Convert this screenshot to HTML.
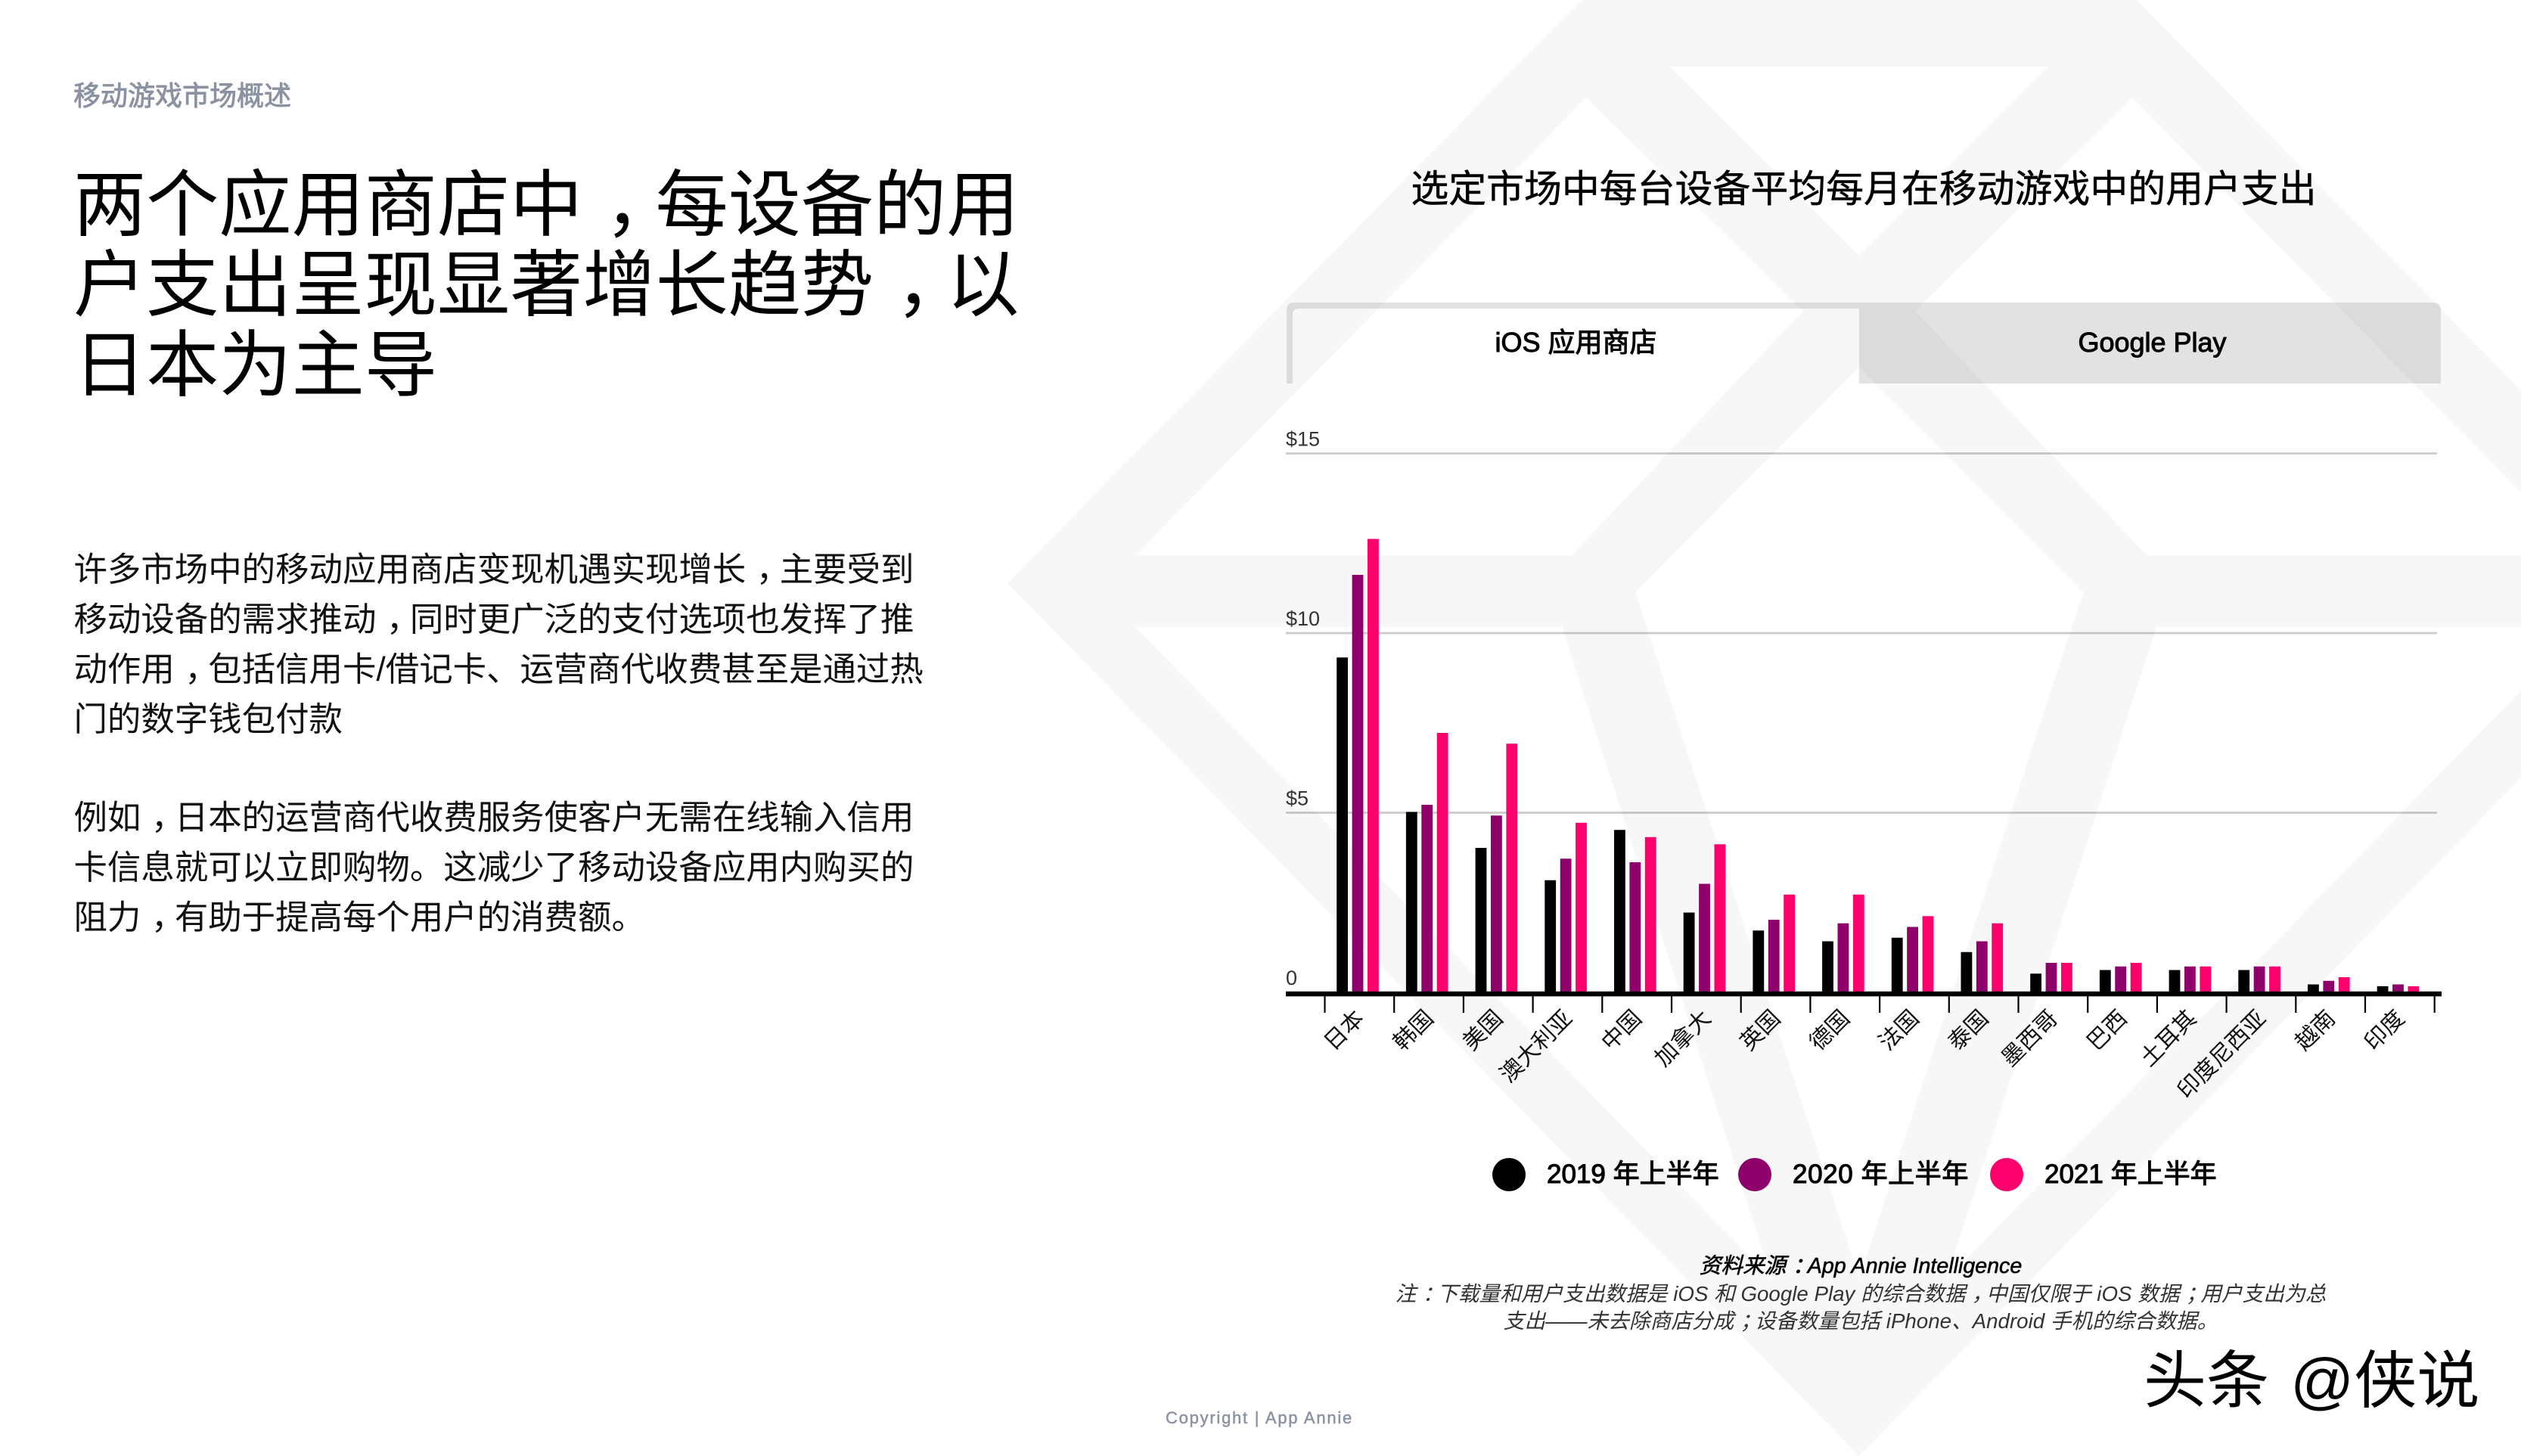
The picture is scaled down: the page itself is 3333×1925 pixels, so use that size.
<!DOCTYPE html>
<html lang="zh-Hans">
<head>
<meta charset="utf-8">
<title>移动游戏市场概述</title>
<style>
html,body{margin:0;padding:0;background:#fff;}
body{position:relative;width:3333px;height:1925px;overflow:hidden;font-family:"Liberation Sans","Noto Sans CJK SC",sans-serif;color:#000;}
svg{position:absolute;left:0;top:0;}
.t{position:absolute;white-space:nowrap;}
.c{position:relative;left:.3em;}
.h{left:97px;font-size:96.2px;line-height:106px;height:106px;}
.b{left:97.5px;font-size:44.45px;line-height:66px;height:66px;color:#111;}
.note{left:1660px;width:1600px;text-align:center;font-size:27.7px;line-height:36px;font-style:italic;color:#333;}
.leg{font-size:35px;line-height:50px;font-weight:400;-webkit-text-stroke:1.1px #000;top:1528px;}
.tab{font-size:36px;line-height:50px;top:428px;text-align:center;-webkit-text-stroke:1px #000;}
</style>
</head>
<body>

<svg width="3333" height="1925" viewBox="0 0 3333 1925">
  <path fill="#f7f7f8" fill-rule="evenodd" d="
    M1332,771 L2091,0 L2825,0 L3584,771 L2458,1925 Z
    M2208,88 L2708,88 L2458,338 Z
    M1501,734 L2097,129 L2384,411 L2078,734 Z
    M3415,734 L2819,129 L2532,411 L2838,734 Z
    M2162,783 L2458,485 L2754,783 L2458,1690 Z
    M1501,829 L2065,829 L2343,1692 Z
    M3415,829 L2851,829 L2573,1692 Z"/>
</svg>

<div class="t" style="left:97px;top:102px;font-size:36px;line-height:50px;color:#8b93a3;-webkit-text-stroke:.9px #8b93a3;">移动游戏市场概述</div>

<div class="t h" style="top:219px;">两个应用商店中<span class="c">，</span>每设备的用</div>
<div class="t h" style="top:325px;">户支出呈现显著增长趋势<span class="c">，</span>以</div>
<div class="t h" style="top:431px;">日本为主导</div>

<div class="t b" style="top:721px;">许多市场中的移动应用商店变现机遇实现增长<span class="c">，</span>主要受到</div>
<div class="t b" style="top:787px;">移动设备的需求推动<span class="c">，</span>同时更广泛的支付选项也发挥了推</div>
<div class="t b" style="top:853px;">动作用<span class="c">，</span>包括信用卡/借记卡、运营商代收费甚至是通过热</div>
<div class="t b" style="top:919px;">门的数字钱包付款</div>
<div class="t b" style="top:1049px;">例如<span class="c">，</span>日本的运营商代收费服务使客户无需在线输入信用</div>
<div class="t b" style="top:1115px;">卡信息就可以立即购物。这减少了移动设备应用内购买的</div>
<div class="t b" style="top:1181px;">阻力<span class="c">，</span>有助于提高每个用户的消费额。</div>

<div class="t" style="left:1664px;width:1600px;text-align:center;top:215px;font-size:49.9px;line-height:70px;-webkit-text-stroke:.5px #000;">选定市场中每台设备平均每月在移动游戏中的用户支出</div>

<svg width="3333" height="1925" viewBox="0 0 3333 1925">
  <path fill="rgba(0,0,0,.115)" d="M1701,507 V410 Q1701,400 1711,400 H2458 V408 H1717 Q1709,408 1709,416 V507 Z"/>
  <path fill="rgba(0,0,0,.115)" d="M2458,400 H3217 Q3227,400 3227,410 V507 H2458 Z"/>
</svg>
<div class="t tab" style="left:1709px;width:749px;">iOS 应用商店</div>
<div class="t tab" style="left:2461px;width:769px;">Google Play</div>

<svg id="chart" width="3333" height="1925" viewBox="0 0 3333 1925"></svg>

<svg width="3333" height="1925" viewBox="0 0 3333 1925">
  <circle cx="1995" cy="1553" r="22" fill="#000"/>
  <circle cx="2320" cy="1553" r="22" fill="#8e006a"/>
  <circle cx="2653" cy="1553" r="22" fill="#fc006c"/>
</svg>
<div class="t leg" style="left:2045px;">2019 年上半年</div>
<div class="t leg" style="left:2370px;letter-spacing:.6px;">2020 年上半年</div>
<div class="t leg" style="left:2703px;">2021 年上半年</div>

<div class="t note" style="top:1656px;font-size:28.6px;font-weight:400;color:#000;-webkit-text-stroke:.6px #000;">资料来源<span class="c">：</span>App Annie Intelligence</div>
<div class="t note" style="top:1693px;">注<span class="c">：</span>下载量和用户支出数据是 iOS 和 Google Play 的综合数据<span class="c">，</span>中国仅限于 iOS 数据<span class="c">；</span>用户支出为总</div>
<div class="t note" style="top:1729px;">支出——未去除商店分成<span class="c">；</span>设备数量包括 iPhone、Android 手机的综合数据。</div>

<div class="t" style="left:1541px;top:1862px;font-size:22px;line-height:26px;letter-spacing:1.75px;color:#8b93a3;-webkit-text-stroke:.5px #8b93a3;">Copyright | App Annie</div>

<div class="t" style="left:2834px;top:1772px;font-size:83px;line-height:108px;word-spacing:5px;color:#000;">头条 @侠说</div>

<script>
var categories = ['日本','韩国','美国','澳大利亚','中国','加拿大','英国','德国','法国','泰国','墨西哥','巴西','土耳其','印度尼西亚','越南','印度'];
var seriesNames = ['2019 年上半年','2020 年上半年','2021 年上半年'];
var values2019 = [9.3,5.0,4.0,3.1,4.5,2.2,1.7,1.4,1.5,1.1,0.5,0.6,0.6,0.6,0.2,0.15];
var values2020 = [11.6,5.2,4.9,3.7,3.6,3.0,2.0,1.9,1.8,1.4,0.8,0.7,0.7,0.7,0.3,0.2];
var values2021 = [12.6,7.2,6.9,4.7,4.3,4.1,2.7,2.7,2.1,1.9,0.8,0.8,0.7,0.7,0.4,0.15];
var tickValues = [0,5,10,15];
var tickLabels = ['0','$5','$10','$15'];

var SVGNS = 'http://www.w3.org/2000/svg';
var chart = document.getElementById('chart');
var plot = {left:1751.4, step:91.7, base:1311, perUnit:47.5, barWidth:14.8, barPitch:20.4, barOffset:15.8, gridLeft:1700, gridRight:3222, axisRight:3228};
var seriesValues = [values2019, values2020, values2021];
var seriesColors = ['#000000','#8e006a','#fc006c'];
var seriesKeys = ['2019','2020','2021'];

function xBand(i){ return plot.left + i * plot.step; }
function yValue(v){ return plot.base - v * plot.perUnit; }
function make(tag, attrs){
  var el = document.createElementNS(SVGNS, tag);
  for (var k in attrs) { el.setAttribute(k, attrs[k]); }
  chart.appendChild(el);
  return el;
}

tickValues.forEach(function(v, i){
  if (v !== 0) {
    var g = make('rect', {x:plot.gridLeft, y:yValue(v)-0.4, width:plot.gridRight-plot.gridLeft, height:2.8, fill:'rgba(0,0,0,.2)'});
    
    
  }
  var t = make('text', {x:plot.gridLeft, y:yValue(v)-9, 'font-size':27, fill:'#333', 'font-family':'"Liberation Sans",sans-serif'});
  t.textContent = tickLabels[i];
  
  
});

seriesValues.forEach(function(vals, s){
  vals.forEach(function(v, i){
    var x = xBand(i) + plot.barOffset + s * plot.barPitch;
    var r = make('rect', {x:x, y:yValue(v), width:plot.barWidth, height:plot.base - yValue(v), fill:seriesColors[s]});
    
    
  });
});

var axis = make('rect', {x:plot.gridLeft, y:plot.base-0.2, width:plot.axisRight-plot.gridLeft, height:6.5, fill:'#000'});



for (var n = 0; n <= categories.length; n++) {
  var tk = make('rect', {x:xBand(n)-1, y:plot.base+3, width:2.2, height:25, fill:'#000'});
  
  
}

categories.forEach(function(name, i){
  var ax = xBand(i) + plot.step/2 + 8;
  var ay = plot.base + 37;
  var lb = make('text', {x:ax, y:ay, 'font-size':30, fill:'#111', 'text-anchor':'end', transform:'rotate(-45 ' + ax + ' ' + ay + ')', 'font-family':'"Noto Sans CJK SC",sans-serif'});
  lb.textContent = name;
  
  
});
</script>
</body>
</html>
